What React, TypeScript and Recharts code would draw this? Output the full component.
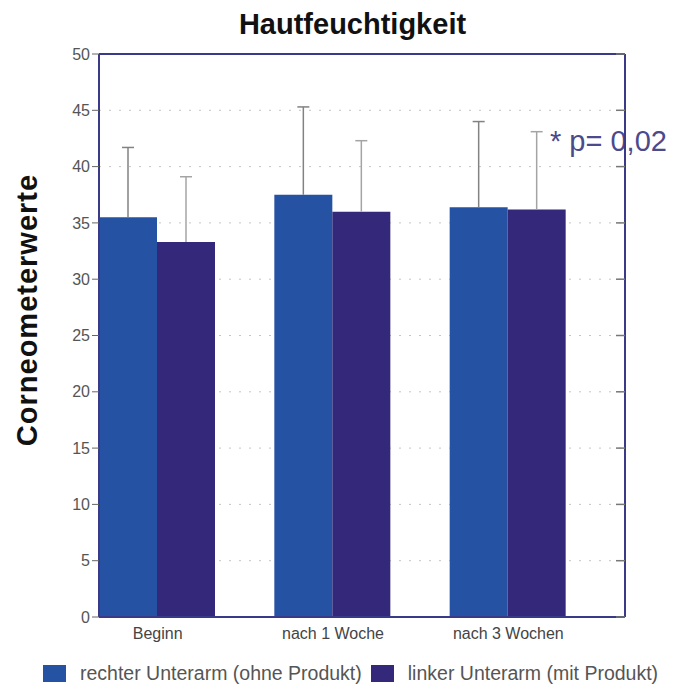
import React from "react";
import {
  Bar,
  BarChart,
  CartesianGrid,
  ErrorBar,
  ReferenceLine,
  XAxis,
  YAxis,
} from "recharts";

// Hautfeuchtigkeit, Mittelwert + Standardabweichung (nur nach oben)
const categories = ["Beginn", "nach 1 Woche", "nach 3 Wochen"];
const rechterArm = [35.5, 37.5, 36.4];
const linkerArm = [33.3, 36.0, 36.2];
const rechterSd = [6.2, 7.8, 7.6];
const linkerSd = [5.8, 6.3, 6.9];
const yTicks = [0, 5, 10, 15, 20, 25, 30, 35, 40, 45, 50];

const seriesNames = [
  "rechter Unterarm (ohne Produkt)",
  "linker Unterarm (mit Produkt)",
];

const BLUE = "#2552a3";
const INDIGO = "#33287a";
const FRAME = "#3b3a88";
const FONT = "'Liberation Sans', Arial, sans-serif";

const data = categories.map((name, i) => ({
  name,
  rechts: rechterArm[i],
  links: linkerArm[i],
  rechtsErr: [0, rechterSd[i]],
  linksErr: [0, linkerSd[i]],
  spacer: 0,
}));

// bars sit in the left two thirds of each band, label centred under the pair
function XTick(props: any) {
  const { x, y, payload } = props;
  return (
    <text
      x={x - 29}
      y={y + 14}
      textAnchor="middle"
      fill="#444"
      fontSize={16}
      fontFamily={FONT}
    >
      {payload.value}
    </text>
  );
}

// short inward ticks on the right frame
function RightTick(props: any) {
  const { x, y } = props;
  return <line x1={x - 9} x2={x} y1={y} y2={y} stroke="#777" strokeWidth={1.5} />;
}

function LegendRow() {
  const colors = [BLUE, INDIGO];
  return (
    <div
      style={{
        position: "absolute",
        left: 43,
        top: 662,
        display: "flex",
        alignItems: "center",
        fontSize: 19.5,
        color: "#555",
        whiteSpace: "nowrap",
      }}
    >
      {seriesNames.map((n, i) => (
        <div key={n} style={{ display: "flex", alignItems: "center", marginRight: 9 }}>
          <span
            style={{
              display: "inline-block",
              width: 23,
              height: 17,
              background: colors[i],
              marginRight: 14,
            }}
          />
          {n}
        </div>
      ))}
    </div>
  );
}

export default function App() {
  return (
    <div
      style={{
        position: "fixed",
        left: 0,
        top: 0,
        width: 685,
        height: 685,
        background: "#fff",
        fontFamily: FONT,
        overflow: "hidden",
      }}
    >
      <style>{".recharts-errorBar line:nth-of-type(3){display:none}"}</style>
      <div
        style={{
          position: "absolute",
          top: 8,
          left: 10,
          width: 685,
          textAlign: "center",
          fontWeight: "bold",
          fontSize: 29,
          color: "#111",
        }}
      >
        Hautfeuchtigkeit
      </div>
      <div
        style={{
          position: "absolute",
          left: 27,
          top: 310,
          transform: "translate(-50%, -50%) rotate(-90deg)",
          fontWeight: "bold",
          fontSize: 29,
          letterSpacing: 1,
          color: "#111",
          whiteSpace: "nowrap",
        }}
      >
        Corneometerwerte
      </div>
      <div
        style={{
          position: "absolute",
          left: 550,
          top: 125,
          fontSize: 29,
          color: "#4b4a8c",
          whiteSpace: "nowrap",
        }}
      >
        * p= 0,02
      </div>
      <BarChart
        width={685}
        height={685}
        data={data}
        margin={{ top: 54, right: 59, bottom: 38, left: 0 }}
        barCategoryGap={0}
        barGap={0}
      >
        <CartesianGrid
          yAxisId="left"
          horizontal
          vertical={false}
          stroke="#c4c4c4"
          strokeDasharray="2 8"
        />
        <XAxis
          dataKey="name"
          height={30}
          tick={<XTick />}
          tickLine={false}
          axisLine={{ stroke: FRAME, strokeWidth: 2 }}
        />
        <YAxis
          yAxisId="left"
          domain={[0, 50]}
          ticks={yTicks}
          width={99}
          tick={{ fill: "#555", fontSize: 16, fontFamily: FONT }}
          tickSize={7}
          tickLine={{ stroke: "#666" }}
          axisLine={{ stroke: FRAME, strokeWidth: 2 }}
        />
        <YAxis
          yAxisId="right"
          orientation="right"
          domain={[0, 50]}
          ticks={yTicks}
          width={1}
          tickLine={false}
          tickSize={0}
          tickMargin={0}
          tick={<RightTick />}
          axisLine={{ stroke: FRAME, strokeWidth: 2 }}
        />
        <ReferenceLine yAxisId="left" y={50} stroke={FRAME} strokeWidth={2} />
        <Bar yAxisId="left" dataKey="rechts" fill={BLUE} isAnimationActive={false}>
          <ErrorBar dataKey="rechtsErr" width={6} stroke="#828282" strokeWidth={1.5} />
        </Bar>
        <Bar yAxisId="left" dataKey="links" fill={INDIGO} isAnimationActive={false}>
          <ErrorBar dataKey="linksErr" width={6} stroke="#a4a4a4" strokeWidth={1.5} />
        </Bar>
        <Bar yAxisId="right" dataKey="spacer" fill="none" isAnimationActive={false} />
      </BarChart>
      <LegendRow />
    </div>
  );
}
